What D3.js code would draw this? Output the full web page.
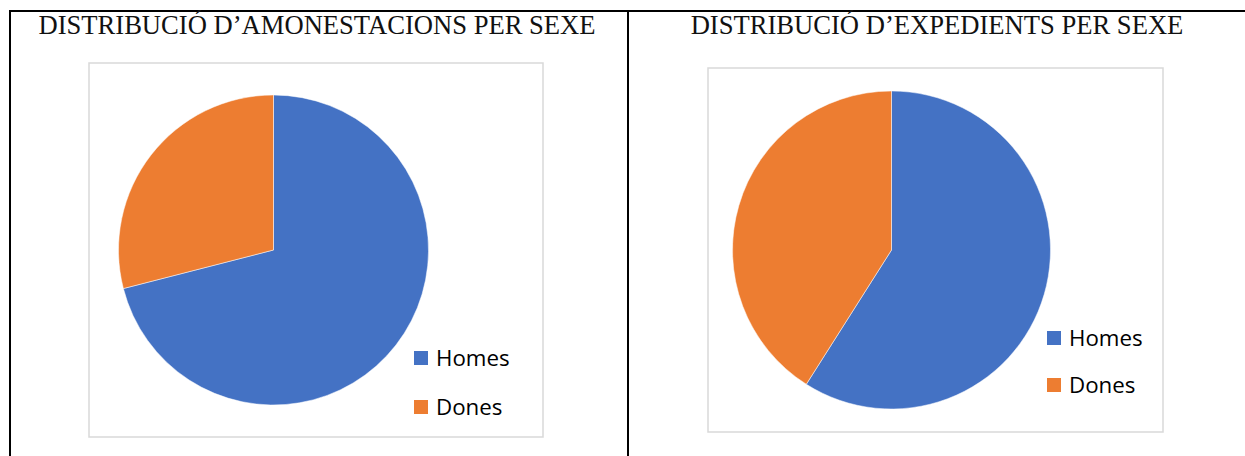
<!DOCTYPE html>
<html>
<head>
<meta charset="utf-8">
<script src="https://cdn.jsdelivr.net/npm/d3@7"></script>
<style>
  html, body { margin: 0; padding: 0; background: #fff; }
  svg { display: block; }
</style>
</head>
<body>
<svg id="chart" width="1245" height="456"></svg>
<script>
const categories = ["Homes", "Dones"];
const amonestacionsValues = [71, 29];
const expedientsValues = [59, 41];
const chartTitles = ["DISTRIBUCIÓ D’AMONESTACIONS PER SEXE", "DISTRIBUCIÓ D’EXPEDIENTS PER SEXE"];
const colors = ["#4472C4", "#ED7D31"];

const svg = d3.select("#chart");
const color = d3.scaleOrdinal().domain(categories).range(colors);

// table borders
const border = svg.append("g").attr("stroke", "#000").attr("stroke-width", 2);
border.append("line").attr("x1", 9).attr("x2", 1245).attr("y1", 11).attr("y2", 11);
border.append("line").attr("x1", 10).attr("x2", 10).attr("y1", 10).attr("y2", 456);
border.append("line").attr("x1", 628).attr("x2", 628).attr("y1", 10).attr("y2", 456);

const panels = [
  { values: amonestacionsValues, title: chartTitles[0], titleX: 317, box: [89, 63, 454, 374], cx: 273.5, cy: 250, r: 155, legX: 414, legY: [358, 407] },
  { values: expedientsValues, title: chartTitles[1], titleX: 937, box: [708, 68, 455, 364], cx: 891.5, cy: 250, r: 159, legX: 1047, legY: [338, 385] }
];

const pie = d3.pie().sort(null).value(d => d.value);

panels.forEach(p => {
  const g = svg.append("g");
  g.append("text")
    .attr("x", p.titleX).attr("y", 34)
    .attr("text-anchor", "middle")
    .attr("font-family", "'Liberation Serif', 'DejaVu Serif', serif")
    .attr("font-size", 26.6)
    .attr("fill", "#111")
    .text(p.title);

  g.append("rect")
    .attr("x", p.box[0]).attr("y", p.box[1])
    .attr("width", p.box[2]).attr("height", p.box[3])
    .attr("fill", "#fff").attr("stroke", "#D9D9D9").attr("stroke-width", 1.5);

  const data = categories.map((c, i) => ({ key: c, value: p.values[i] }));
  const arc = d3.arc().innerRadius(0).outerRadius(p.r);
  g.append("g").attr("transform", `translate(${p.cx},${p.cy})`)
    .selectAll("path").data(pie(data)).join("path")
    .attr("d", arc)
    .attr("fill", d => color(d.data.key))
    .attr("stroke", "#fff").attr("stroke-width", 0.5);

  const leg = g.append("g");
  categories.forEach((c, i) => {
    leg.append("rect")
      .attr("x", p.legX).attr("y", p.legY[i] - 7)
      .attr("width", 14).attr("height", 14)
      .attr("fill", color(c));
    leg.append("text")
      .attr("x", p.legX + 22).attr("y", p.legY[i] + 8)
      .attr("font-family", "'Open Sans', 'Liberation Sans', sans-serif")
      .attr("font-size", 22.3)
      .attr("fill", "#000")
      .text(c);
  });
});
</script>
</body>
</html>
